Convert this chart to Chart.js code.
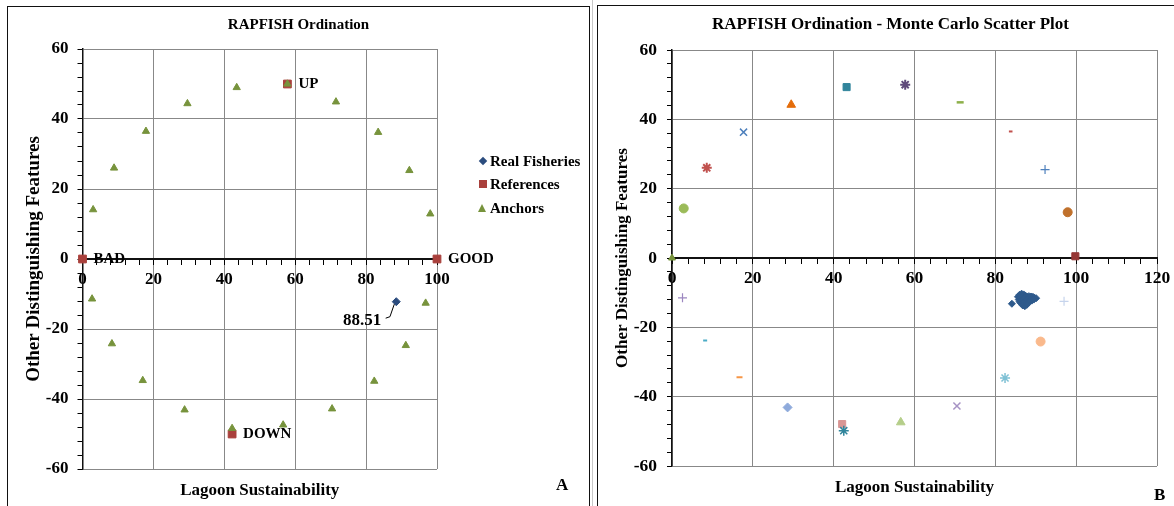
<!DOCTYPE html>
<html>
<head>
<meta charset="utf-8">
<title>RAPFISH Ordination</title>
<script src="https://cdn.jsdelivr.net/npm/chart.js@4.4.1/dist/chart.umd.min.js"></script>
<style>
  body { margin: 0; width: 1174px; height: 506px; overflow: hidden; background: #fff; position: relative; }
  .frame { position: absolute; border: 1.5px solid #111; box-sizing: border-box; }
  #frameA { left: 7px; top: 6px; width: 583px; height: 540px; }
  #frameB { left: 597px; top: 5px; width: 590px; height: 540px; }
  #sep { position: absolute; left: 592px; top: 0; width: 1px; height: 506px; background: #c8c8c8; }
  canvas { position: absolute; }
  #chartA { left: 9px; top: 8px; }
  #chartB { left: 599px; top: 8px; }
  .txt { position: absolute; font: bold 15px 'Liberation Serif', serif; color: #000; line-height: 18px; white-space: nowrap; }
  .big { font-size: 17px; line-height: 20px; }
  .diamond { position: absolute; width: 6px; height: 6px; background: #2B4C7E; transform: rotate(45deg); }
  .square { position: absolute; width: 8px; height: 8px; background: #A9403C; }
  .triangle { position: absolute; width: 0; height: 0; border-left: 4.5px solid transparent; border-right: 4.5px solid transparent; border-bottom: 8px solid #77933C; }
</style>
</head>
<body>
<div id="frameA" class="frame"></div>
<div id="sep"></div>
<div id="frameB" class="frame"></div>
<canvas id="chartA" width="579" height="498"></canvas>
<canvas id="chartB" width="583" height="498"></canvas>

<!-- legend of panel A -->
<div class="diamond" style="left:480px; top:158px"></div>
<div class="txt" style="left:490px; top:152px">Real Fisheries</div>
<div class="square" style="left:479px; top:180px"></div>
<div class="txt" style="left:490px; top:175px">References</div>
<div class="triangle" style="left:478px; top:204px"></div>
<div class="txt" style="left:490px; top:199px">Anchors</div>

<div class="txt big" style="left:556px; top:475px">A</div>
<div class="txt big" style="left:1154px; top:485px">B</div>

<script>
// panel A: ordination
const fisheryX = [88.51];
const fisheryY = [-12.2];
const refNames = ['BAD', 'GOOD', 'UP', 'DOWN'];
const refX = [0, 100, 57.8, 42.2];
const refY = [0, 0, 50, -50];
const anchorX = [3.0, 8.9, 17.9, 29.6, 43.5, 57.8, 71.5, 83.4, 92.2, 98.1, 96.8, 91.2, 82.3, 70.4, 56.6, 42.2, 28.8, 17.0, 8.3, 2.7];
const anchorY = [14.1, 26.0, 36.5, 44.4, 49.0, 50.0, 44.9, 36.2, 25.3, 12.9, -12.6, -24.7, -34.9, -42.8, -47.4, -48.4, -43.1, -34.7, -24.2, -11.4];

// panel B: monte carlo runs and anchors
const mcRunX = [84.1, 85.6, 86.0, 86.5, 87.0, 87.4, 85.8, 86.3, 86.8, 87.3, 87.8, 88.3, 88.8, 89.3, 89.7, 90.1,
                86.0, 86.5, 87.0, 87.5, 88.0, 88.5, 89.0, 89.5, 86.4, 86.9, 87.4, 87.9, 88.4, 86.8, 87.3, 87.8];
const mcRunY = [-13.2, -11.2, -10.6, -10.3, -10.5, -10.8, -12.0, -11.5, -11.2, -11.4, -11.1, -11.0, -11.1, -11.2, -11.5, -11.6,
                -12.6, -12.3, -12.0, -12.2, -12.0, -12.1, -12.3, -12.0, -13.1, -13.0, -13.2, -12.8, -12.7, -13.7, -13.9, -13.5];
const mcAnchorX = [0, 2.9, 8.6, 17.7, 29.5, 43.2, 57.7, 71.3, 83.8, 92.3, 97.9, 99.8,
                   97.0, 91.2, 82.4, 70.5, 56.6, 42.5, 42.1, 28.6, 16.7, 8.2, 2.6];
const mcAnchorY = [0, 14.3, 26.0, 36.3, 44.2, 49.3, 50.0, 44.9, 36.5, 25.5, 13.2, 0.5,
                   -12.5, -24.1, -34.6, -42.7, -47.4, -49.8, -47.9, -43.1, -34.4, -23.8, -11.5];

// marker styles for the anchors of panel B
const mcShape = ['triangle', 'circle', 'star', 'crossRot', 'triangle', 'rect', 'star', 'line', 'line', 'cross', 'circle', 'rect',
                 'cross', 'circle', 'star', 'crossRot', 'triangle', 'star', 'rect', 'rectRot', 'line', 'line', 'cross'];
const mcColor = ['#77933C', '#9BBB59', '#C0504D', '#4F81BD', '#E46C0A', '#31859C', '#604A7B', '#8DB04A', '#C0504D', '#4F81BD', '#C0712C', '#953735',
                 '#C6D4EC', '#FAB98C', '#7FC1D5', '#A692C4', '#B5CE8A', '#31859C', '#D99694', '#8EAADB', '#F79646', '#4BACC6', '#9C87C0'];
const mcSize = [4, 4.5, 5, 5, 5, 5, 5, 3.5, 1.8, 4.5, 4.5, 5, 4.5, 4.5, 5, 5, 5, 5, 5, 4.5, 3, 2, 4.5];
const mcStroke = [1, 1, 2, 1.5, 1, 1, 2, 2.5, 2, 1.2, 1, 1, 1.2, 1, 1.5, 1.5, 1, 1.5, 1, 1, 2, 2, 1.2];

const serif = "'Liberation Serif', 'Times New Roman', serif";
function bold(size) { return { family: serif, size: size, weight: 'bold', lineHeight: 1.2 }; }
function majorGrid(c) { return c.tick && c.tick.value % 20 === 0 ? '#888888' : 'rgba(0,0,0,0)'; }
function majorLabel(v) { return v % 20 === 0 ? v : ''; }
function points(xs, ys) { return xs.map((x, i) => ({ x: x, y: ys[i] })); }

function scales(xMax, yWidth, rightGap, tickFont, xPad, yPad, titleFont, titlePad) {
    return {
        x: {
            type: 'linear', min: 0, max: xMax, position: { y: 0 },
            afterFit: s => { s.height = 0; },
            border: { color: '#111', width: 2 },
            grid: { color: majorGrid, tickColor: '#000', tickWidth: 1, tickLength: 5 },
            ticks: { stepSize: 4, maxTicksLimit: 100, autoSkip: false, maxRotation: 0, minRotation: 0,
                     padding: xPad, color: '#000', font: bold(tickFont), callback: majorLabel }
        },
        y: {
            type: 'linear', min: -60, max: 60, position: 'left',
            afterFit: s => { s.width = yWidth; },
            border: { color: '#111', width: 1.5 },
            grid: { color: majorGrid, tickColor: '#000', tickWidth: 1, tickLength: 5 },
            ticks: { stepSize: 4, maxTicksLimit: 100, autoSkip: false, padding: yPad, color: '#000',
                     font: bold(tickFont), callback: majorLabel },
            title: { display: true, text: 'Other Distinguishing Features', color: '#000', font: bold(titleFont),
                     padding: { top: titlePad, bottom: 0 } }
        },
        gap: {
            type: 'linear', position: 'right',
            afterFit: s => { s.width = rightGap; },
            grid: { display: false }, border: { display: false }, ticks: { display: false }
        }
    };
}

// labels next to the reference points and the fishery value
const refLabels = {
    id: 'refLabels',
    afterDatasetsDraw(chart) {
        const ctx = chart.ctx;
        ctx.save();
        ctx.fillStyle = '#000';
        ctx.textBaseline = 'middle';
        ctx.textAlign = 'left';
        ctx.font = "bold 15px " + serif;
        chart.getDatasetMeta(1).data.forEach((p, i) => ctx.fillText(refNames[i], p.x + 11, p.y));
        const f = chart.getDatasetMeta(0).data[0];
        ctx.strokeStyle = '#000';
        ctx.lineWidth = 1;
        ctx.beginPath();
        ctx.moveTo(f.x - 2, f.y + 2.5);
        ctx.lineTo(f.x - 6.3, f.y + 15);
        ctx.lineTo(f.x - 10.6, f.y + 16.5);
        ctx.stroke();
        ctx.font = "bold 17px " + serif;
        ctx.textAlign = 'right';
        ctx.fillText(fisheryX[0].toFixed(2), f.x - 15, f.y + 18.5);
        ctx.restore();
    }
};

new Chart(document.getElementById('chartA'), {
    type: 'scatter',
    data: {
        datasets: [
            { label: 'Real Fisheries', data: points(fisheryX, fisheryY), pointStyle: 'rectRot', pointRadius: 4,
              pointBackgroundColor: '#2B4C7E', pointBorderColor: '#2B4C7E', pointBorderWidth: 1, order: 1, clip: false },
            { label: 'References', data: points(refX, refY), pointStyle: 'rect', pointRadius: 5.5,
              pointBackgroundColor: '#A9403C', pointBorderColor: '#A9403C', pointBorderWidth: 1, order: 2, clip: false },
            { label: 'Anchors', data: points(anchorX, anchorY), pointStyle: 'triangle', pointRadius: 4.2,
              pointBackgroundColor: '#77933C', pointBorderColor: '#77933C', pointBorderWidth: 1, order: 0, clip: false }
        ]
    },
    options: {
        responsive: false, animation: false, events: [],
        layout: { padding: 0 },
        scales: scales(100, 73.5, 151, 17, 5.5, 9, 19, 13.6),
        plugins: {
            legend: { display: false },
            tooltip: { enabled: false },
            title: { display: true, text: 'RAPFISH Ordination', color: '#000', font: bold(15), padding: { top: 8, bottom: 15 } },
            subtitle: { display: true, position: 'bottom', fullSize: false, text: 'Lagoon Sustainability', color: '#000',
                        font: bold(17), padding: { top: 11.5, bottom: 5.1 } }
        }
    },
    plugins: [refLabels]
});

const mcSets = mcAnchorX.map((x, i) => ({
    label: 'Anchor ' + (i + 1),
    data: [{ x: x, y: mcAnchorY[i] }],
    pointStyle: mcShape[i], pointRadius: mcSize[i],
    pointBackgroundColor: mcColor[i], pointBorderColor: mcColor[i], pointBorderWidth: mcStroke[i],
    order: 1, clip: false
}));

new Chart(document.getElementById('chartB'), {
    type: 'scatter',
    data: {
        datasets: [
            { label: 'Fisheries', data: points(mcRunX, mcRunY), pointStyle: 'rectRot', pointRadius: 3.5,
              pointBackgroundColor: '#2E5A8C', pointBorderColor: '#2E5A8C', pointBorderWidth: 1, order: 0, clip: false }
        ].concat(mcSets)
    },
    options: {
        responsive: false, animation: false, events: [],
        layout: { padding: 0 },
        scales: scales(120, 73, 25, 17.5, 4.8, 10, 17, 13.8),
        plugins: {
            legend: { display: false },
            tooltip: { enabled: false },
            title: { display: true, text: 'RAPFISH Ordination - Monte Carlo Scatter Plot', color: '#000', font: bold(17),
                     padding: { top: 6.3, bottom: 15.3 } },
            subtitle: { display: true, position: 'bottom', fullSize: false, text: 'Lagoon Sustainability', color: '#000',
                        font: bold(17), padding: { top: 11.8, bottom: 7.8 } }
        }
    }
});
</script>
</body>
</html>
